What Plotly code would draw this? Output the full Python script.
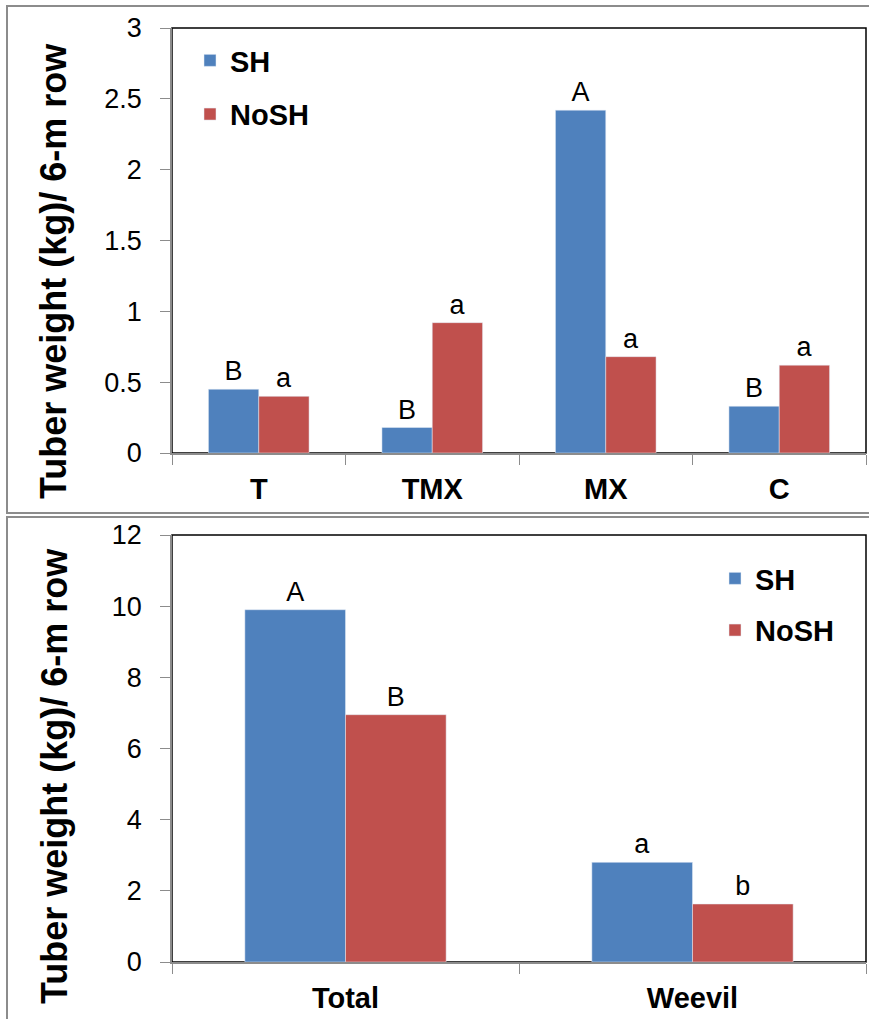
import plotly.graph_objects as go

# Top panel data
top_categories = ["T", "TMX", "MX", "C"]
top_sh = [0.45, 0.18, 2.42, 0.33]
top_nosh = [0.40, 0.92, 0.68, 0.62]
top_sh_letters = ["B", "B", "A", "B"]
top_nosh_letters = ["a", "a", "a", "a"]

# Bottom panel data
bot_categories = ["Total", "Weevil"]
bot_sh = [9.9, 2.8]
bot_nosh = [6.95, 1.63]
bot_sh_letters = ["A", "a"]
bot_nosh_letters = ["B", "b"]

y_title = "Tuber weight (kg)/ 6-m row"
top_yticks = [0, 0.5, 1, 1.5, 2, 2.5, 3]
top_yticklabels = ["0", "0.5", "1", "1.5", "2", "2.5", "3"]
bot_yticks = [0, 2, 4, 6, 8, 10, 12]

SH_COLOR = "#4F81BD"
NOSH_COLOR = "#C0504D"
GRID = "#8C8C8C"
FONT = "Liberation Sans, Arial, sans-serif"

W, H = 869, 1019
def px(x): return x / W
def py(y): return 1 - y / H

fig = go.Figure()

text_font = dict(family=FONT, size=27, color="black")

fig.add_trace(go.Bar(x=top_categories, y=top_sh, name="SH", marker_color=SH_COLOR,
                     text=top_sh_letters, textposition="outside", textfont=text_font,
                     cliponaxis=False, xaxis="x", yaxis="y", legend="legend",
                     legendgroup="a"))
fig.add_trace(go.Bar(x=top_categories, y=top_nosh, name="NoSH", marker_color=NOSH_COLOR,
                     text=top_nosh_letters, textposition="outside", textfont=text_font,
                     cliponaxis=False, xaxis="x", yaxis="y", legend="legend",
                     legendgroup="b"))
fig.add_trace(go.Bar(x=bot_categories, y=bot_sh, name="SH", marker_color=SH_COLOR,
                     text=bot_sh_letters, textposition="outside", textfont=text_font,
                     cliponaxis=False, xaxis="x2", yaxis="y2", legend="legend2",
                     legendgroup="c"))
fig.add_trace(go.Bar(x=bot_categories, y=bot_nosh, name="NoSH", marker_color=NOSH_COLOR,
                     text=bot_nosh_letters, textposition="outside", textfont=text_font,
                     cliponaxis=False, xaxis="x2", yaxis="y2", legend="legend2",
                     legendgroup="d"))

tick_font = dict(family=FONT, size=27, color="black")
xtick_font = dict(family=FONT, size=29, color="black", weight="bold")

x_dom = [px(172), px(866)]
top_dom = [py(453), py(28)]
bot_dom = [py(962), py(535)]

common_x = dict(showline=True, linecolor=GRID, linewidth=1.5, ticks="outside",
                tickson="boundaries", ticklen=10, tickcolor=GRID, tickwidth=1,
                showgrid=False, tickfont=xtick_font, ticklabelstandoff=9,
                automargin=False)
common_y = dict(showline=True, linecolor=GRID, linewidth=1.5, ticks="outside",
                ticklen=10, tickcolor=GRID, tickwidth=1, showgrid=False,
                zeroline=False, tickfont=tick_font, ticklabelstandoff=13,
                automargin=False)

legend_font = dict(family=FONT, size=29, color="black", weight="bold")

fig.update_layout(
    width=W, height=H,
    margin=dict(l=0, r=0, t=0, b=0, autoexpand=False),
    paper_bgcolor="white", plot_bgcolor="white",
    barmode="group", bargap=0.42, bargroupgap=0,
    font=dict(family=FONT, color="black"),
    xaxis=dict(domain=x_dom, anchor="y", **common_x),
    yaxis=dict(domain=top_dom, anchor="x", range=[0, 3], tickvals=top_yticks,
               ticktext=top_yticklabels, **common_y),
    xaxis2=dict(domain=x_dom, anchor="y2", **common_x),
    yaxis2=dict(domain=bot_dom, anchor="x2", range=[0, 12], tickvals=bot_yticks, **common_y),
    legend=dict(x=px(190), y=py(35), xanchor="left", yanchor="top",
                font=legend_font, tracegroupgap=13, bgcolor="rgba(0,0,0,0)",
                itemwidth=30),
    legend2=dict(x=px(715), y=py(553), xanchor="left", yanchor="top",
                 font=legend_font, tracegroupgap=11, bgcolor="rgba(0,0,0,0)",
                 itemwidth=30),
)

shapes = []
# plot area borders (black); gray axis lines overdraw left/bottom
for dom in (top_dom, bot_dom):
    shapes.append(dict(type="rect", xref="paper", yref="paper", x0=x_dom[0], x1=x_dom[1],
                       y0=dom[0], y1=dom[1], line=dict(color="black", width=1.5),
                       layer="below"))
# outer panel frames
shapes.append(dict(type="rect", xref="paper", yref="paper", x0=px(7), x1=px(880),
                   y0=py(513), y1=py(6), line=dict(color=GRID, width=2)))
shapes.append(dict(type="rect", xref="paper", yref="paper", x0=px(7), x1=px(880),
                   y0=py(1030), y1=py(517), line=dict(color=GRID, width=2)))
fig.update_layout(shapes=shapes)

title_font = dict(family=FONT, size=36, color="black", weight="bold")
fig.add_annotation(text=y_title, xref="paper", yref="paper", x=px(54), y=py(271),
                   textangle=-90, showarrow=False, font=title_font,
                   xanchor="center", yanchor="middle")
fig.add_annotation(text=y_title, xref="paper", yref="paper", x=px(54), y=py(776),
                   textangle=-90, showarrow=False, font=title_font,
                   xanchor="center", yanchor="middle")

fig.write_html("out.html", config={"displayModeBar": False},
               post_script="document.body.style.margin='0';")
